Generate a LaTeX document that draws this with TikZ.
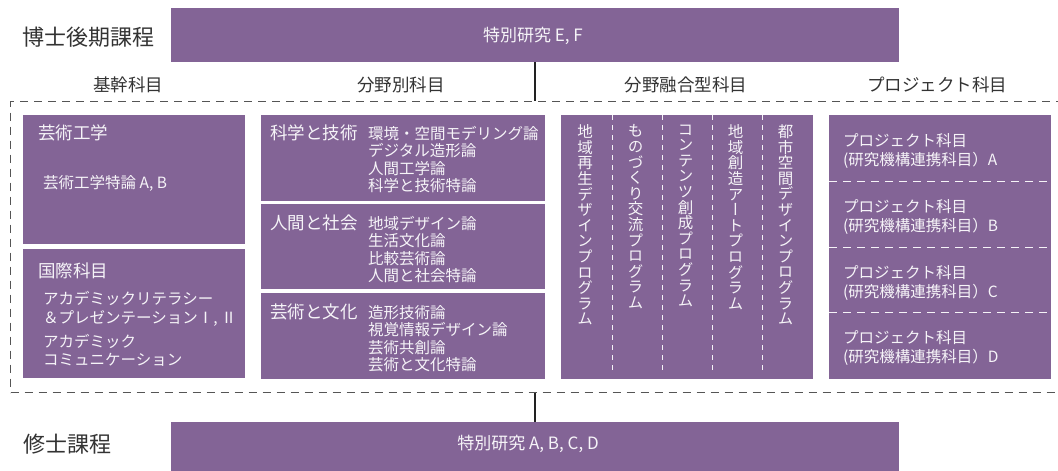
\documentclass[tikz,border=0pt]{standalone}
\usepackage{fontspec}
\setmainfont{Noto Sans CJK JP}
\newfontfamily\jpv[RawFeature=+vert]{Noto Sans CJK JP}
\newcommand\myvfont{\jpv\fontsize{15.5}{15.6}\selectfont\lineskiplimit=-20pt\relax}
\definecolor{pu}{RGB}{131,100,150}
\definecolor{lblc}{RGB}{51,51,51}
\definecolor{wt}{RGB}{246,244,248}
\definecolor{framec}{RGB}{85,85,85}
\definecolor{connc}{RGB}{34,34,34}
\tikzset{
  pbox/.style={fill=pu, draw=none, inner sep=0pt, anchor=north west},
  wtxt/.style={text=wt, inner sep=0pt, anchor=base west},
  bigtxt/.style={font=\fontsize{17.5}{20}\selectfont},
  smtxt/.style={font=\fontsize{15.5}{18}\selectfont},
  lbltxt/.style={text=lblc, inner sep=0pt},
  framebox/.style={draw=framec, line width=1.2pt, dash pattern=on 8pt off 6pt, inner sep=0pt, anchor=north west},
  conn/.style={draw=connc, line width=2pt},
  vdash/.style={draw=wt, line width=1pt, dash pattern=on 5pt off 5pt},
  hdash/.style={draw=wt, line width=1pt, dash pattern=on 8pt off 6pt},
  vtxt/.style={text=wt, inner sep=0pt, anchor=north, align=center, font=\myvfont}
}
\begin{document}
\begin{tikzpicture}[x=1pt,y=-1pt]
\useasboundingbox (0,0) rectangle (1058,471);

% top: doctoral
\node[pbox, minimum width=728pt, minimum height=54pt] (phd) at (171,8) {};
\node[lbltxt, anchor=base west, font=\fontsize{22}{26}\selectfont] (phdlabel) at (22,45.5) {博士後期課程};
\node[wtxt, anchor=base, font=\fontsize{17}{20}\selectfont] (phdtext) at (533,41.5) {特別研究 E, F};

% headers
\node[lbltxt, anchor=base, bigtxt] (h1) at (128,91.6) {基幹科目};
\node[lbltxt, anchor=base, bigtxt] (h2) at (401,91.6) {分野別科目};
\node[lbltxt, anchor=base, bigtxt] (h3) at (686,91.6) {分野融合型科目};
\node[lbltxt, anchor=base, bigtxt] (h4) at (937,91.6) {プロジェクト科目};

% frame
\node[framebox, minimum width=1060pt, minimum height=291pt] (frame) at (10,101) {};

% bottom: master
\node[pbox, minimum width=728pt, minimum height=52pt] (ms) at (171,422) {};
\node[lbltxt, anchor=base west, font=\fontsize{22}{26}\selectfont] (mslabel) at (23,452) {修士課程};
\node[wtxt, anchor=base, font=\fontsize{17}{20}\selectfont] (mstext) at (528,449.5) {特別研究 A, B, C, D};

% connectors
\draw[conn] (phd.south) -- (phd.south |- frame.north);
\draw[conn] (frame.south -| ms.north) -- (ms.north);

% left column
\node[pbox, minimum width=222pt, minimum height=129pt] (geiko) at (23,115) {};
\node[pbox, minimum width=222pt, minimum height=129pt] (kokusai) at (23,249) {};
\node[wtxt, bigtxt] (geikoT) at (38,139.6) {芸術工学};
\node[wtxt, smtxt] (geikoA) at (43,188) {芸術工学特論 A, B};
\node[wtxt, bigtxt] (kokusaiT) at (38,277.6) {国際科目};
\node[wtxt, smtxt] (kok1) at (43,304) {アカデミックリテラシー};
\node[wtxt, smtxt] (kok2) at (43,323) {＆プレゼンテーションⅠ, Ⅱ};
\node[wtxt, smtxt] (kok3) at (43,347) {アカデミック};
\node[wtxt, smtxt] (kok4) at (43,365) {コミュニケーション};

% middle column
\node[pbox, minimum width=284pt, minimum height=86pt] (kagaku) at (261,115) {};
\node[pbox, minimum width=284pt, minimum height=85pt] (ningen) at (261,204) {};
\node[pbox, minimum width=284pt, minimum height=86pt] (geibun) at (261,293) {};
\node[wtxt, bigtxt] (kagakuT) at (270,139.6) {科学と技術};
\node[wtxt, smtxt] (kg1) at (368,139) {環境・空間モデリング論};
\node[wtxt, smtxt] (kg2) at (368,156.5) {デジタル造形論};
\node[wtxt, smtxt] (kg3) at (368,174) {人間工学論};
\node[wtxt, smtxt] (kg4) at (368,191.5) {科学と技術特論};
\node[wtxt, bigtxt] (ningenT) at (270,229.6) {人間と社会};
\node[wtxt, smtxt] (nn1) at (368,229) {地域デザイン論};
\node[wtxt, smtxt] (nn2) at (368,246.5) {生活文化論};
\node[wtxt, smtxt] (nn3) at (368,264) {比較芸術論};
\node[wtxt, smtxt] (nn4) at (368,281.5) {人間と社会特論};
\node[wtxt, bigtxt] (geibunT) at (270,318.6) {芸術と文化};
\node[wtxt, smtxt] (gb1) at (368,318) {造形技術論};
\node[wtxt, smtxt] (gb2) at (368,335.5) {視覚情報デザイン論};
\node[wtxt, smtxt] (gb3) at (368,353) {芸術共創論};
\node[wtxt, smtxt] (gb4) at (368,370.5) {芸術と文化特論};

% fusion column
\node[pbox, minimum width=252pt, minimum height=264pt] (fusion) at (561,115) {};
\draw[vdash] (612,115) -- (612,374);
\draw[vdash] (662,115) -- (662,374);
\draw[vdash] (712,115) -- (712,374);
\draw[vdash] (762,115) -- (762,374);
\node[vtxt] (fu1) at (585,124.5) {地\\域\\再\\生\\デ\\ザ\\イ\\ン\\プ\\ロ\\グ\\ラ\\ム};
\node[vtxt] (fu2) at (635.5,124.5) {も\\の\\づ\\く\\り\\交\\流\\プ\\ロ\\グ\\ラ\\ム};
\node[vtxt] (fu3) at (685.5,124.5) {コ\\ン\\テ\\ン\\ツ\\創\\成\\プ\\ロ\\グ\\ラ\\ム};
\node[vtxt] (fu4) at (735.5,124.5) {地\\域\\創\\造\\ア\\ー\\ト\\プ\\ロ\\グ\\ラ\\ム};
\node[vtxt] (fu5) at (785.5,124.5) {都\\市\\空\\間\\デ\\ザ\\イ\\ン\\プ\\ロ\\グ\\ラ\\ム};

% project column
\node[pbox, minimum width=222pt, minimum height=264pt] (proj) at (829,115) {};
\draw[hdash] (829,181) -- (1051,181);
\draw[hdash] (829,247) -- (1051,247);
\draw[hdash] (829,312) -- (1051,312);
\node[wtxt, smtxt] (pa1) at (843,146) {プロジェクト科目};
\node[wtxt, smtxt] (pa2) at (843,165) {(研究機構連携科目）A};
\node[wtxt, smtxt] (pb1) at (843,212) {プロジェクト科目};
\node[wtxt, smtxt] (pb2) at (843,231) {(研究機構連携科目）B};
\node[wtxt, smtxt] (pc1) at (843,278) {プロジェクト科目};
\node[wtxt, smtxt] (pc2) at (843,297) {(研究機構連携科目）C};
\node[wtxt, smtxt] (pd1) at (843,343.5) {プロジェクト科目};
\node[wtxt, smtxt] (pd2) at (843,362.5) {(研究機構連携科目）D};
\end{tikzpicture}
\end{document}
